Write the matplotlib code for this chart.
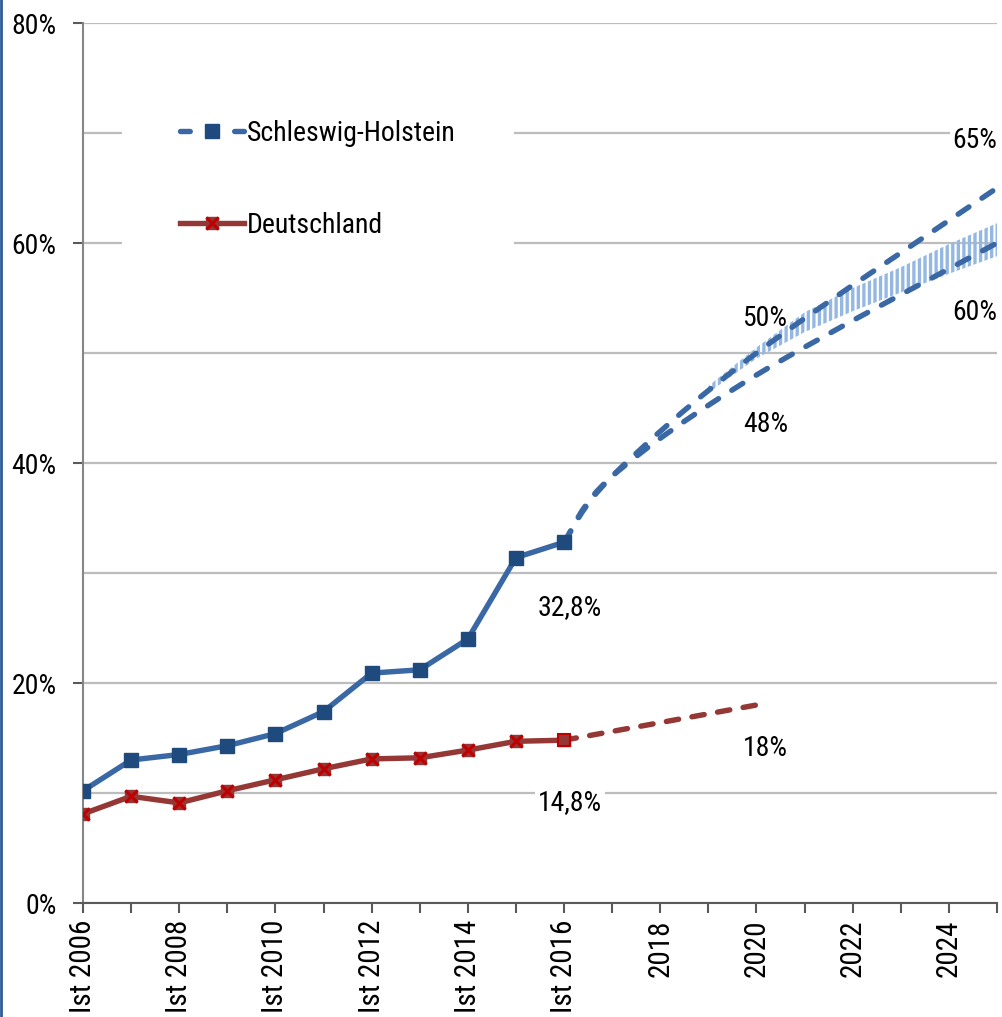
import matplotlib
matplotlib.use("Agg")
import numpy as np
import matplotlib.pyplot as plt
from matplotlib import font_manager
from matplotlib.path import Path
from matplotlib.patches import PathPatch
from matplotlib.lines import Line2D
from matplotlib.legend_handler import HandlerTuple

# pick a narrow sans-serif if one is installed
_avail = {f.name for f in font_manager.fontManager.ttflist}
_family = 'Liberation Sans'
for cand in ['Roboto Condensed', 'Liberation Sans Narrow', 'Open Sans Condensed',
             'DejaVu Sans Condensed']:
    if cand in _avail:
        _family = cand
        break
plt.rcParams['font.family'] = [_family, 'DejaVu Sans']
plt.rcParams['hatch.linewidth'] = 2.4

# ---- data -------------------------------------------------------------
years = list(range(2006, 2017))
sh_values = [10.2, 13.0, 13.5, 14.3, 15.4, 17.4, 20.9, 21.2, 24.0, 31.4, 32.8]
de_values = [8.1, 9.7, 9.1, 10.2, 11.2, 12.2, 13.1, 13.2, 13.9, 14.7, 14.8]

sh_proj_years = [2016, 2017, 2020, 2025]
sh_proj_high = [32.8, 38.8, 50, 65]
sh_proj_low = [32.8, 38.8, 48, 60]

de_proj_years = [2016, 2020]
de_proj = [14.8, 18]

band_years = [2019, 2020, 2021, 2022, 2023, 2024, 2025]
band_low = [46.4, 49.5, 51.9, 53.8, 55.5, 57.2, 58.8]
band_high = [47.0, 50.5, 53.7, 55.9, 57.8, 59.9, 61.8]

tick_years = list(range(2006, 2026))
tick_labels = ["Ist 2006", "", "Ist 2008", "", "Ist 2010", "", "Ist 2012", "",
               "Ist 2014", "", "Ist 2016", "", "2018", "", "2020", "", "2022", "",
               "2024", ""]
y_major = [0, 20, 40, 60, 80]
y_grid = [0, 10, 20, 30, 40, 50, 60, 70, 80]

series_names = ["Schleswig-Holstein", "Deutschland"]

# ---- styling ----------------------------------------------------------
SH_LINE = '#3a68a4'
SH_MARK = '#1f4a7e'
DE_LINE = '#953735'
DE_X = '#c00000'
GRID = '#bdbdbd'
FS = 20
LW = 3.9


def fmt_pct(v):
    s = ('%.1f' % v).rstrip('0').rstrip('.')
    return s.replace('.', ',') + '%'


def smooth_path(xs, ys):
    pts = np.column_stack([xs, ys]).astype(float)
    n = len(pts)
    verts = [pts[0]]
    codes = [Path.MOVETO]
    for i in range(n - 1):
        p0 = pts[max(i - 1, 0)]
        p1 = pts[i]
        p2 = pts[i + 1]
        p3 = pts[min(i + 2, n - 1)]
        verts += [p1 + (p2 - p0) / 6.0, p2 - (p3 - p1) / 6.0, p2]
        codes += [Path.CURVE4] * 3
    return Path(verts, codes)


fig = plt.figure(figsize=(10.02, 10.17), dpi=100)
ax = fig.add_axes([83 / 1002, 1 - 903 / 1017, 914 / 1002, 880 / 1017])

ax.set_xlim(2006, 2025)
ax.set_ylim(0, 80)

# gridlines
for g in y_grid:
    ax.axhline(g, color=GRID, lw=1.6, zorder=0.5)

# corridor band
ax.fill_between(band_years, band_low, band_high, facecolor='none',
                edgecolor='#95b8e2', hatch='|||', linewidth=0, zorder=1.5)

# projections
for vals in (sh_proj_high, sh_proj_low):
    patch = PathPatch(smooth_path(sh_proj_years, vals), fill=False,
                      edgecolor=SH_LINE, lw=LW, linestyle=(0, (2.4, 2.9)),
                      capstyle='round', joinstyle='round', zorder=2)
    ax.add_patch(patch)

ax.plot(de_proj_years, de_proj, color=DE_LINE, lw=LW, linestyle=(0, (2.3, 2.5)),
        dash_capstyle='round', zorder=2)

# actual values
ax.plot(years, sh_values, color=SH_LINE, lw=LW, solid_joinstyle='round',
        marker='s', markersize=9.5, markerfacecolor=SH_MARK,
        markeredgecolor=SH_MARK, zorder=4)
ax.plot(years, de_values, color=DE_LINE, lw=LW, solid_joinstyle='round',
        marker='s', markersize=8.8, markerfacecolor=DE_LINE,
        markeredgecolor=DE_LINE, zorder=4)
ax.plot(years[:-1], de_values[:-1], linestyle='none', marker='x',
        markersize=8.5, markeredgewidth=2.2, color=DE_X, zorder=5)
ax.plot(years[-1:], de_values[-1:], linestyle='none', marker='s',
        markersize=8.8, markerfacecolor=DE_LINE, markeredgecolor=DE_X,
        markeredgewidth=1.5, zorder=5)

# value labels (offsets in pixels, y up)
labels = [
    (2016, sh_values[-1], (6, -65), False),
    (2016, de_values[-1], (6, -62), True),
    (2020, de_proj[-1], (9, -43), False),
    (2020, sh_proj_low[2], (9, -50), False),
    (2020, sh_proj_high[2], (8, 35), False),
    (2025, sh_proj_low[3], (-22, -70), False),
    (2025, sh_proj_high[3], (-22, 47), True),
]
for x, v, off, boxed in labels:
    kw = {}
    if boxed:
        kw['bbox'] = dict(facecolor='white', edgecolor='none', pad=2)
    ax.annotate(fmt_pct(v), (x, v), xytext=off,
                textcoords='offset pixels', ha='center', va='center',
                fontsize=FS, color='black', zorder=6, annotation_clip=False,
                **kw)

# axes
for s in ('top', 'right'):
    ax.spines[s].set_visible(False)
ax.spines['left'].set_color('#868686')
ax.spines['left'].set_linewidth(1.5)
ax.spines['bottom'].set_color('#5a5a5a')
ax.spines['bottom'].set_linewidth(1.5)

ax.set_yticks(y_major)
ax.set_yticklabels(['%d%%' % v for v in y_major], fontsize=FS)
ax.tick_params(axis='y', direction='out', length=7, width=1.5, color='#5a5a5a', pad=12)
ax.set_xticks(tick_years)
ax.set_xticklabels(tick_labels, rotation=90, fontsize=FS + 1, va='top')
ax.tick_params(axis='x', direction='out', length=7, width=1.5, color='#5a5a5a', pad=5)

# legend
h_sh = Line2D([], [], color=SH_LINE, lw=LW, linestyle=(0, (1.8, 3.2)),
              dash_capstyle='round', marker='s', markersize=9.5,
              markerfacecolor=SH_MARK, markeredgecolor=SH_MARK)
h_de_line = Line2D([], [], color=DE_LINE, lw=LW, marker='s', markersize=8.8,
                   markerfacecolor=DE_LINE, markeredgecolor=DE_LINE)
h_de_x = Line2D([], [], linestyle='none', marker='x', markersize=8.5,
                markeredgewidth=2.2, color=DE_X)
leg = ax.legend([h_sh, (h_de_line, h_de_x)], series_names,
                handler_map={tuple: HandlerTuple(ndivide=1)},
                loc='upper left', bbox_to_anchor=(25 / 914, 1 - 25 / 880),
                frameon=True, facecolor='white', edgecolor='none', framealpha=1,
                fancybox=False, borderpad=2.1, handlelength=2.3,
                handletextpad=0.1, labelspacing=2.32, fontsize=FS,
                numpoints=1)
leg.set_zorder(7)

# left frame edge
fig.add_artist(Line2D([0.001, 0.001], [0, 1], transform=fig.transFigure,
                      color='#2e5c9a', lw=2))

fig.savefig('out.png', dpi=100)
